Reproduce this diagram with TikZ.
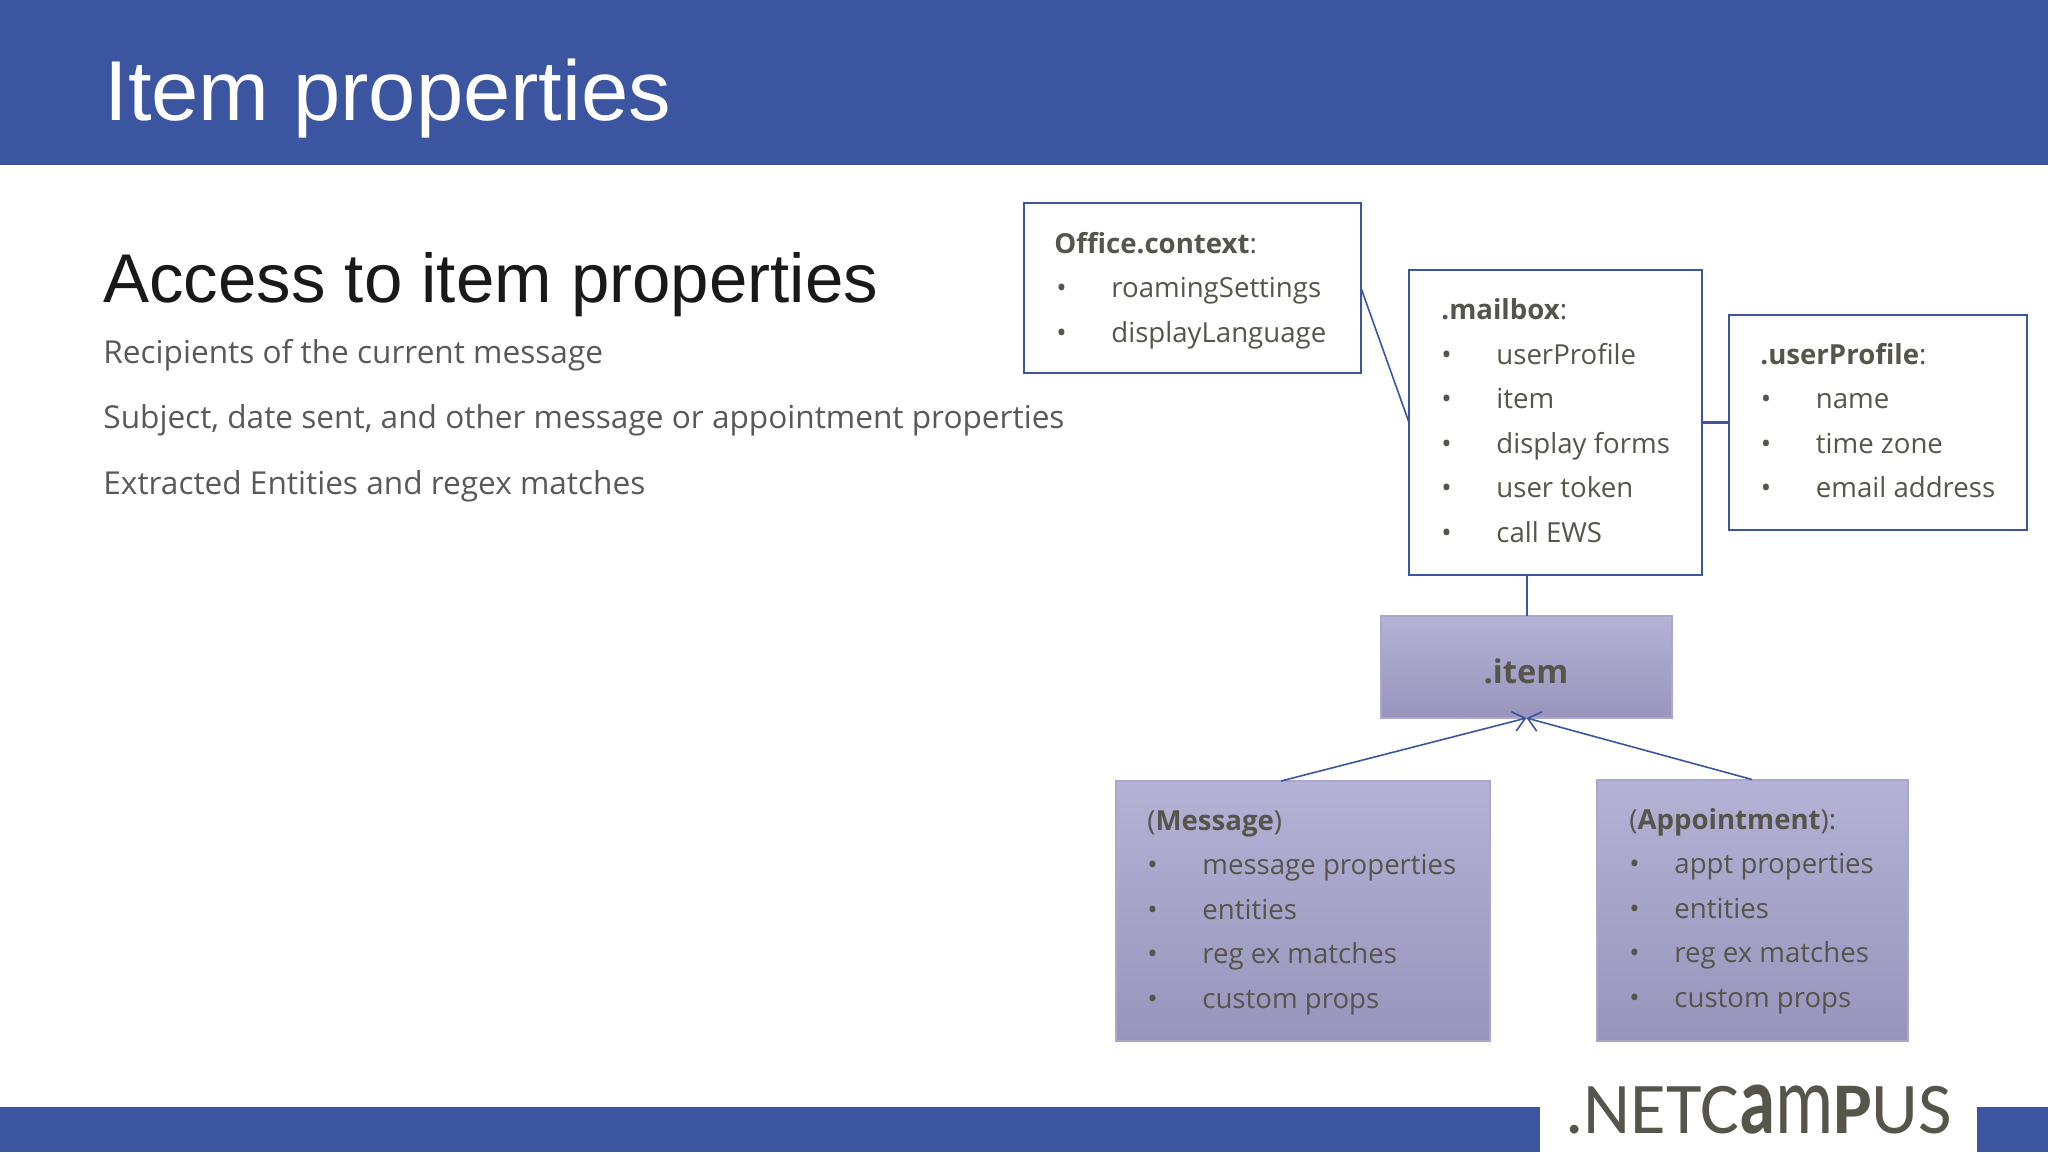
\documentclass[tikz,border=0pt]{standalone}
\usepackage{fontspec}
\usepackage{xcolor}
\setmainfont{Open Sans}
\newfontfamily\arialfont{Liberation Sans}
\newfontfamily\logofont{Carlito}
\usetikzlibrary{arrows.meta, positioning, calc}

\definecolor{barblue}{HTML}{3B55A0}
\definecolor{boxtop}{HTML}{B4B2D5}
\definecolor{boxbottom}{HTML}{9894BC}
\definecolor{boxedge}{HTML}{A9A7CE}
\definecolor{boxtext}{HTML}{57544C}
\definecolor{bodytext}{HTML}{595959}

\newcommand{\bulletrow}[2][27.5pt]{\makebox[#1][l]{\textbullet}#2}
\newcommand{\tallglyph}[1]{\scalebox{1}[1.35]{#1}}

\tikzset{
    plainbox/.style={draw=barblue, line width=1.1pt, fill=white, inner sep=0pt, outer sep=0pt},
    shadebox/.style={draw=boxedge, line width=1pt, top color=boxtop, bottom color=boxbottom, inner sep=0pt, outer sep=0pt},
    boxhead/.style={anchor=base west, inner sep=0pt, text=boxtext, font=\fontsize{13.8}{16}\selectfont},
    boxrow/.style={boxhead, font=\fontsize{13.8}{16}\selectfont},
    bodyline/.style={anchor=base west, inner sep=0pt, text=bodytext, font=\fontsize{15.8}{18}\selectfont},
    link/.style={draw=barblue, line width=0.8pt},
}

\begin{document}
\begin{tikzpicture}[x=0.5pt, y=-0.5pt]
    \useasboundingbox (0,0) rectangle (2048,1152);

    % bars
    \fill [barblue] (0,0) rectangle (2048,165);
    \fill [barblue] (0,1107) rectangle (1540,1152);
    \fill [barblue] (1977,1107) rectangle (2048,1152);

    \node [anchor=base west, inner sep=0pt, text=white, font=\arialfont\fontsize{42.5}{50}\selectfont] (title) at (104,120) {Item properties};
    \node [anchor=base west, inner sep=0pt, text=black!90, font=\arialfont\fontsize{34.5}{40}\selectfont] (subtitle) at (103,302) {Access to item properties};

    \node [bodyline] (line1) at (103,363) {Recipients of the current message};
    \node [bodyline] (line2) at (103,428) {Subject, date sent, and other message or appointment properties};
    \node [bodyline] (line3) at (103,494) {Extracted Entities and regex matches};

    % boxes
    \node [plainbox, minimum width=168.5pt, minimum height=85pt] (office) at (1192.5,288) {};
    \node [plainbox, minimum width=146.5pt, minimum height=152.5pt] (mailbox) at (1555.5,422.5) {};
    \node [plainbox, minimum width=149pt, minimum height=107.5pt] (userprofile) at (1878,422.5) {};
    \node [shadebox, minimum width=145.5pt, minimum height=51pt] (item) at (1526.5,667) {};
    \node [shadebox, minimum width=187pt, minimum height=130pt] (message) at (1303,911) {};
    \node [shadebox, minimum width=155.5pt, minimum height=130.5pt] (appointment) at (1752,910) {};

    \coordinate (messagetop) at ($(message.north)+(-22,0)$);

    \draw [link] (office.east) -- (mailbox.west);
    \draw [link, line width=1.2pt] (mailbox.east) -- (userprofile.west);
    \draw [link, line width=1pt] (mailbox.south -| item.north) -- (item.north);
    \draw [link, -{Straight Barb[length=6pt, width=10pt]}] (messagetop) -- (item.south);
    \draw [link, -{Straight Barb[length=6pt, width=10pt]}] (appointment.north) -- (item.south);

    % box texts
    \node [boxhead] (officehead) at (1054,253) {\textbf{Office.context}:};
    \foreach \txt [count=\n] in {roamingSettings, displayLanguage}
        \node [boxrow] (officerow\n) at (1056,{253+44.5*\n}) {\bulletrow{\txt}};

    \node [boxhead] (mailboxhead) at (1441,319) {\textbf{.mailbox}:};
    \foreach \txt [count=\n] in {userProfile, item, display forms, user token, call EWS}
        \node [boxrow] (mailboxrow\n) at (1441,{320+44.4*\n}) {\bulletrow{\txt}};

    \node [boxhead] (profilehead) at (1760,364) {\textbf{.userProfile}:};
    \foreach \txt [count=\n] in {name, time zone, email address}
        \node [boxrow] (profilerow\n) at (1760.5,{364+44.6*\n}) {\bulletrow{\txt}};

    \node [anchor=base, inner sep=0pt, text=boxtext, font=\fontsize{16.3}{20}\selectfont\bfseries] (itemhead) at (1526,683) {.item};

    \node [boxhead] (messagehead) at (1147,830) {(\textbf{Message})};
    \foreach \txt [count=\n] in {message properties, entities, reg ex matches, custom props}
        \node [boxrow] (messagerow\n) at (1147,{830+44.5*\n}) {\bulletrow{\txt}};

    \node [boxhead] (appthead) at (1629,829) {(\textbf{Appointment}):};
    \foreach \txt [count=\n] in {appt properties, entities, reg ex matches, custom props}
        \node [boxrow] (apptrow\n) at (1629,{829+44.5*\n}) {\bulletrow[22.5pt]{\txt}};

    % logo
    \node [anchor=base west, inner sep=0pt, text=boxtext, font=\logofont\fontsize{36.4}{40}\selectfont] (logo) at (1565,1133) {.NETC\tallglyph{\textbf{a}}\tallglyph{m}\textbf{P}US};
\end{tikzpicture}
\end{document}
